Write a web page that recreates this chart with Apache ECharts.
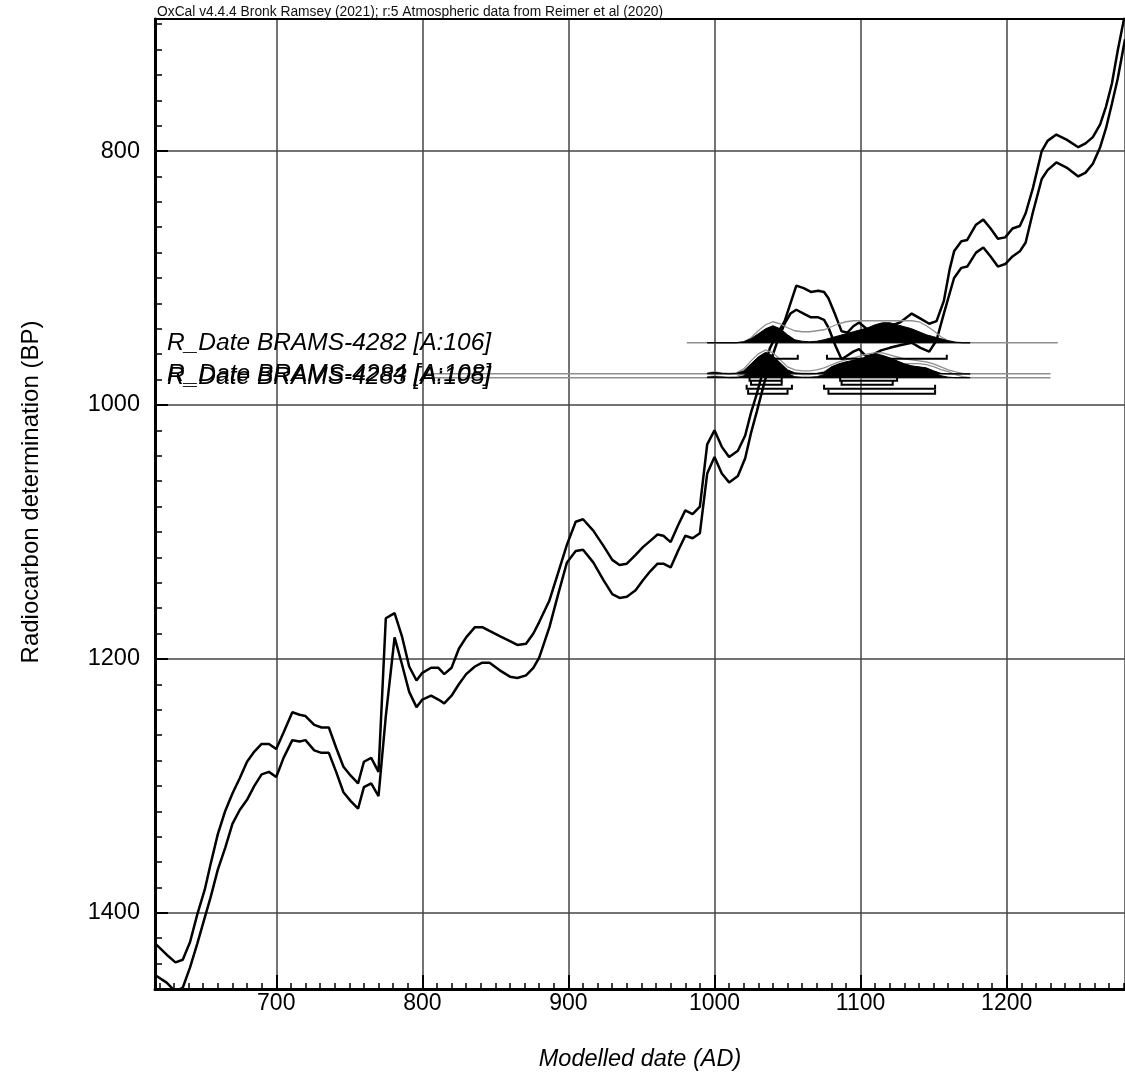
<!DOCTYPE html>
<html><head><meta charset="utf-8">
<script src="https://cdn.jsdelivr.net/npm/echarts@6/dist/echarts.min.js"></script>
<style>html,body{margin:0;padding:0;background:#fff}#c{width:1125px;height:1072px}</style>
</head><body><div id="c"></div>
<script>
// ---------- texts ----------
const titleText = 'OxCal v4.4.4 Bronk Ramsey (2021); r:5 Atmospheric data from Reimer et al (2020)';
const xAxisTitle = 'Modelled date (AD)';
const yAxisTitle = 'Radiocarbon determination (BP)';
const rDateLabels = ['R_Date BRAMS-4282 [A:106]', 'R_Date BRAMS-4284 [A:108]', 'R_Date BRAMS-4283 [A:105]'];

// ---------- axes ----------
const xMin = 617, xMax = 1281;
const yMin = 696, yMax = 1460;
const xTickValues = [700, 800, 900, 1000, 1100, 1200];
const yTickValues = [800, 1000, 1200, 1400];

// ---------- calibration curve (IntCal20, ±1σ envelope) ----------
const curveYears = [617,625,631,636,641,646,651,655,660,665,670,675,680,685,690,695,700,705,711,716,720,726,731,736,741,746,751,756,760,765,770,775,781,786,791,796,800,806,811,815,820,825,830,836,841,846,853,860,865,871,876,880,887,893,899,905,910,917,924,930,935,940,946,951,956,961,965,970,975,980,985,990,995,1000,1005,1010,1016,1021,1025,1029,1034,1038,1043,1048,1052,1056,1061,1066,1071,1075,1078,1083,1087,1091,1095,1099,1104,1109,1114,1120,1127,1135,1141,1147,1152,1157,1161,1164,1169,1173,1179,1184,1189,1194,1199,1204,1209,1213,1218,1224,1228,1234,1241,1249,1254,1259,1264,1268,1272,1276,1281];
const curveUpperBP = [1424,1433,1439,1437,1423,1401,1382,1362,1338,1320,1306,1294,1281,1273,1267,1267,1271,1258,1242,1244,1245,1252,1254,1254,1270,1285,1292,1298,1281,1278,1289,1168,1164,1182,1206,1217,1211,1207,1207,1212,1207,1192,1183,1175,1175,1178,1182,1186,1189,1188,1180,1171,1154,1132,1110,1092,1090,1099,1111,1122,1126,1125,1118,1112,1107,1102,1103,1108,1095,1083,1086,1080,1031,1020,1033,1041,1036,1024,1006,991,970,955,944,934,920,906,908,911,910,911,916,930,942,943,938,935,940,941,940,938,935,928,932,936,934,918,893,879,871,870,858,854,861,869,868,861,859,849,829,800,792,787,791,797,794,789,779,765,747,721,692];
const curveLowerBP = [1449,1455,1462,1459,1443,1424,1404,1388,1366,1349,1330,1319,1311,1300,1291,1289,1293,1278,1264,1265,1264,1272,1274,1274,1289,1305,1312,1318,1301,1298,1308,1245,1183,1204,1226,1238,1232,1229,1232,1235,1229,1220,1212,1206,1203,1203,1209,1214,1215,1213,1207,1199,1175,1149,1124,1115,1114,1124,1138,1149,1152,1151,1146,1138,1131,1125,1125,1128,1115,1103,1105,1101,1054,1041,1054,1061,1056,1042,1022,1005,983,967,950,936,928,925,928,931,931,933,939,954,964,961,958,956,962,960,957,955,953,951,955,958,949,928,912,900,892,891,880,876,883,891,889,883,879,872,848,822,815,809,813,820,817,810,797,782,763,743,712];

// ---------- R_Date distributions (relative probability) ----------
const distYears = [995,1000,1005,1010,1015,1020,1025,1030,1035,1040,1045,1050,1055,1060,1065,1070,1075,1080,1085,1090,1095,1100,1105,1110,1115,1120,1125,1130,1135,1140,1145,1150,1155,1160,1165,1170,1175];
const r4282Posterior  = [0,0,0,0,0,1,4,9,14,17,14,8,3,1.5,1,1.5,3,5,7,9,11,13,15,18,20,20,18,16,14,11,8,6,4,2,0.5,0,0];
const r4282Likelihood = [0,0,0,0,0,1,5,12,18,21,19,15,12,11,11,12,13,16,19,21,22,22,22,22,22,22,22,22,22,21,17,12,6,2,0.5,0,0];
const r4284Posterior  = [0.5,1.5,0.5,0,0.5,3,10,17,21.5,18,11,4,1,0.5,0.5,0.5,1.5,7,10,12,13.5,15,17.5,20,18.5,16,13,10,8,7,6,3,0.5,0,0,0,0];
const r4284Likelihood = [1,2,1,0.5,1,5,13,20,24,21,14,7,4,3,3,4,6,9,12,14,16,18,20,21,21,19,17,15,14,13,12,10,7,4,2,0.5,0];
const r4283Posterior  = [0.5,1,0.5,0,0,2,8,15,20,17,10,4,1,0.5,0.5,1,3,7,10,13,16,18,18,17,15,13,11,10,10,10,8,5,2,0.5,0,0,0];
const r4283Likelihood = [1,1.5,1,0.5,1,4,11,18,22,20,13,7,4,3,3,4,6,10,13,15,17,19,20,19,18,16,15,14,14,14,13,11,8,6,3,1,0];
const rDateBP = [951, 975.5, 978.5];
const rDateSpan = [[981, 1235], [803, 1230], [803, 1230]];
// highest posterior density ranges
const r4282Range95 = [[1036, 1057], [1077, 1159]];
const r4284Range68 = [[1024, 1046], [1086, 1125]];
const r4284Range95 = [[1022, 1053], [1075, 1151]];
const r4283Range68 = [[1025, 1046], [1087, 1122]];
const r4283Range95 = [[1023, 1050], [1078, 1151]];

// ---------- styling ----------
const FONT = '"Liberation Sans", Arial, sans-serif';
const UNIT_BP = 1 / 1.27;   // one density unit drawn as this many BP
const GRID_COLOR = '#444';

function polySeries(years, dens, baseBP, filled, z) {
  return {
    type: 'custom', coordinateSystem: 'cartesian2d', xAxisIndex: 0, yAxisIndex: 0,
    z: z, silent: true, clip: true, data: [[xMin, yMin]],
    renderItem: function (params, api) {
      const pts = [];
      if (filled) pts.push(api.coord([years[0], baseBP]));
      for (let i = 0; i < years.length; i++) pts.push(api.coord([years[i], baseBP - dens[i] * UNIT_BP]));
      if (filled) pts.push(api.coord([years[years.length - 1], baseBP]));
      return filled
        ? { type: 'polygon', shape: { points: pts }, style: { fill: '#000', stroke: '#000', lineWidth: 1 } }
        : { type: 'polyline', shape: { points: pts }, style: { fill: null, stroke: '#8f8f8f', lineWidth: 1.3 } };
    }
  };
}
function baselineSeries(span, baseBP) {
  return {
    type: 'custom', coordinateSystem: 'cartesian2d', z: 2, silent: true, clip: true, data: [[xMin, yMin]],
    renderItem: function (params, api) {
      const a = api.coord([span[0], baseBP]), b = api.coord([span[1], baseBP]);
      return { type: 'line', shape: { x1: a[0], y1: a[1], x2: b[0], y2: b[1] }, style: { stroke: '#8f8f8f', lineWidth: 1.5 } };
    }
  };
}
function bracketSeries(ranges, baseBP, offsetPx) {
  return {
    type: 'custom', coordinateSystem: 'cartesian2d', z: 5, silent: true, clip: true, data: [[xMin, yMin]],
    renderItem: function (params, api) {
      return {
        type: 'group',
        children: ranges.map(function (r) {
          const p1 = api.coord([r[0], baseBP]), p2 = api.coord([r[1], baseBP]);
          const y = p1[1] + offsetPx;
          return { type: 'polyline', shape: { points: [[p1[0], y - 4], [p1[0], y], [p2[0], y], [p2[0], y - 4]] },
                   style: { fill: null, stroke: '#000', lineWidth: 2 } };
        })
      };
    }
  };
}
function labelSeries(text, baseBP) {
  return {
    type: 'custom', coordinateSystem: 'cartesian2d', z: 8, silent: true, data: [[xMin, yMin]],
    renderItem: function (params, api) {
      const p = api.coord([xMin, baseBP]);
      return { type: 'text', x: p[0] + 12, y: p[1],
               style: { text: text, fill: '#000', font: 'italic 24.5px ' + FONT, align: 'left', verticalAlign: 'middle' } };
    }
  };
}

const series = [];
// calibration curve lines
series.push({ type: 'line', z: 3, silent: true, symbol: 'none', clip: true,
  data: curveYears.map(function (y, i) { return [y, curveUpperBP[i]]; }),
  lineStyle: { color: '#000', width: 2.5 } });
series.push({ type: 'line', z: 3, silent: true, symbol: 'none', clip: true,
  data: curveYears.map(function (y, i) { return [y, curveLowerBP[i]]; }),
  lineStyle: { color: '#000', width: 2.5 } });
// baselines
for (let i = 0; i < 3; i++) series.push(baselineSeries(rDateSpan[i], rDateBP[i]));
// likelihood outlines
series.push(polySeries(distYears, r4282Likelihood, rDateBP[0], false, 4));
series.push(polySeries(distYears, r4284Likelihood, rDateBP[1], false, 4));
series.push(polySeries(distYears, r4283Likelihood, rDateBP[2], false, 4));
// posterior fills
series.push(polySeries(distYears, r4282Posterior, rDateBP[0], true, 5));
series.push(polySeries(distYears, r4284Posterior, rDateBP[1], true, 5));
series.push(polySeries(distYears, r4283Posterior, rDateBP[2], true, 5));
// ranges
series.push(bracketSeries(r4282Range95, rDateBP[0], 16));
series.push(bracketSeries(r4284Range68, rDateBP[1], 7));
series.push(bracketSeries(r4284Range95, rDateBP[1], 15));
series.push(bracketSeries(r4283Range68, rDateBP[2], 7));
series.push(bracketSeries(r4283Range95, rDateBP[2], 16));
// labels
for (let i = 0; i < 3; i++) series.push(labelSeries(rDateLabels[i], rDateBP[i]));

const option = {
  animation: false,
  backgroundColor: '#fff',
  title: { text: titleText, left: 157, top: 5, padding: 0,
           textStyle: { fontSize: 13.8, fontWeight: 'normal', color: '#111', fontFamily: FONT } },
  grid: { left: 155, right: 0, top: 19, bottom: 83, containLabel: false, outerBoundsMode: 'none' },
  xAxis: [
    { type: 'value', position: 'bottom', min: xMin, max: xMax, minInterval: 100, maxInterval: 100,
      axisLine: { show: true, onZero: false, lineStyle: { color: '#000', width: 3 } },
      axisTick: { show: true, inside: true, length: 14, lineStyle: { color: '#000', width: 2 } },
      axisLabel: { show: true, margin: 3, fontSize: 23, color: '#000', fontFamily: FONT,
                   showMinLabel: false, showMaxLabel: false,
                   formatter: function (v) { return xTickValues.indexOf(v) >= 0 ? String(v) : ''; } },
      splitLine: { show: true, lineStyle: { color: GRID_COLOR, width: 1.5 } },
      name: xAxisTitle, nameLocation: 'middle', nameGap: 59, nameMoveOverlap: false,
      nameTextStyle: { fontSize: 23.5, fontStyle: 'italic', color: '#000', fontFamily: FONT } },
    { type: 'value', position: 'bottom', min: xMin, max: xMax, minInterval: 10, maxInterval: 10,
      axisLine: { show: false, onZero: false },
      axisTick: { show: true, inside: true, length: 6, lineStyle: { color: '#000', width: 1.5 } },
      axisLabel: { show: false }, splitLine: { show: false } },
    { type: 'value', position: 'top', min: xMin, max: xMax,
      axisLine: { show: true, onZero: false, lineStyle: { color: '#000', width: 2 } },
      axisTick: { show: false }, axisLabel: { show: false }, splitLine: { show: false } }
  ],
  yAxis: [
    { type: 'value', position: 'left', inverse: true, min: yMin, max: yMax, minInterval: 200, maxInterval: 200,
      axisLine: { show: true, onZero: false, lineStyle: { color: '#000', width: 3 } },
      axisTick: { show: true, inside: true, length: 13, lineStyle: { color: '#000', width: 2 } },
      axisLabel: { show: true, margin: 15, fontSize: 23.5, color: '#000', fontFamily: FONT,
                   showMinLabel: false, showMaxLabel: false,
                   formatter: function (v) { return yTickValues.indexOf(v) >= 0 ? String(v) : ''; } },
      splitLine: { show: true, lineStyle: { color: GRID_COLOR, width: 1.5 } },
      name: yAxisTitle, nameLocation: 'middle', nameGap: 112, nameRotate: 90, nameMoveOverlap: false,
      nameTextStyle: { fontSize: 24, color: '#000', fontFamily: FONT, padding: [0, 0, 0, 24] } },
    { type: 'value', position: 'left', inverse: true, min: yMin, max: yMax, minInterval: 20, maxInterval: 20,
      axisLine: { show: false, onZero: false },
      axisTick: { show: true, inside: true, length: 7, lineStyle: { color: '#000', width: 1.5 } },
      axisLabel: { show: false }, splitLine: { show: false } }
  ],
  series: series
};

const chart = echarts.init(document.getElementById('c'), null, { renderer: 'canvas' });
chart.setOption(option);
</script></body></html>
